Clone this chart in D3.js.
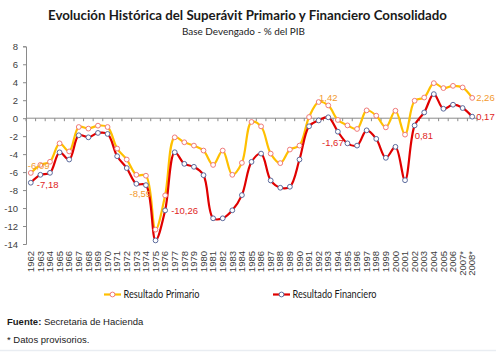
<!DOCTYPE html>
<html><head><meta charset="utf-8">
<script src="https://cdn.jsdelivr.net/npm/d3@7"></script>
<style>
html,body{margin:0;padding:0;background:#fff;}
svg{display:block;}
</style></head>
<body>
<svg id="chart" width="496" height="356"></svg>
<script>
const years = ["1962","1963","1964","1965","1966","1967","1968","1969","1970","1971","1972","1973","1974","1975","1976","1977","1978","1979","1980","1981","1982","1983","1984","1985","1986","1987","1988","1989","1990","1991","1992","1993","1994","1995","1996","1997","1998","1999","2000","2001","2002","2003","2004","2005","2006","2007*","2008*"];
const primario = [-6.09,-5.2,-4.85,-2.8,-3.7,-0.98,-1.16,-0.83,-0.98,-3.38,-4.6,-6.3,-6.4,-12.4,-8.59,-2.13,-2.68,-3.05,-3.6,-5.2,-3.6,-6.3,-4.97,-0.42,-0.91,-3.94,-5.0,-3.49,-3.05,0.13,1.8,1.42,-0.2,-0.8,-1.2,0.87,0.28,-1.02,0.83,-1.83,1.94,2.3,3.9,3.35,3.6,3.42,2.26];
const financiero = [-7.18,-6.3,-6.08,-3.8,-4.6,-1.9,-2.13,-1.64,-1.75,-4.23,-5.55,-7.3,-7.45,-13.6,-10.26,-3.79,-5.08,-5.41,-6.34,-11.14,-11.14,-10.25,-8.56,-4.86,-3.94,-6.93,-7.74,-7.63,-4.6,-0.9,-0.25,0.1,-1.5,-2.8,-3.05,-1.35,-2.3,-4.41,-3.19,-6.9,-0.81,0.64,2.68,1.05,1.5,1.13,0.17];
const yTicks = [-14,-12,-10,-8,-6,-4,-2,0,2,4,6,8];
const primarioLabels = [["1962","-6,09"],["1976","-8,59"],["1993","1,42"],["2008*","2,26"]];
const financieroLabels = [["1962","-7,18"],["1976","-10,26"],["1994","-1,67"],["2002","0,81"],["2008*","0,17"]];
const seriesNames = ["Resultado Primario","Resultado Financiero"];
const titleText = "Evolución Histórica del Superávit Primario y Financiero Consolidado";
const subtitleText = "Base Devengado - % del PIB";

const narrow = "'Liberation Sans Narrow','Arial Narrow','Liberation Sans',Arial,sans-serif";
const cal = "Lato,'Open Sans',sans-serif";
const C = {prim:"#FFC000", primMk:"#F07A7A", fin:"#E00000", finMk:"#5B6A9C", primLbl:"#F29A2E", finLbl:"#E01E1E", axis:"#8A8A8A", txt:"#404040"};

const svg = d3.select("#chart");
const x = d3.scaleBand().domain(years).range([26, 477]);
const y = d3.scaleLinear().domain([-14, 8]).range([244, 46.3]);
const cx = d => x(d) + x.bandwidth()/2;

// Title
svg.append("text").attr("x",247.5).attr("y",19.5).attr("text-anchor","middle")
  .attr("font-family",cal).attr("font-weight","bold").attr("font-size",14).attr("fill","#1a1a1a")
  .attr("textLength",399).attr("lengthAdjust","spacingAndGlyphs").text(titleText);
svg.append("text").attr("x",243.5).attr("y",34.5).attr("text-anchor","middle")
  .attr("font-family",cal).attr("font-size",10).attr("fill","#1a1a1a")
  .attr("textLength",123).attr("lengthAdjust","spacingAndGlyphs").text(subtitleText);

// Y axis
const yAxis = d3.axisLeft(y).tickValues(yTicks).tickSize(3).tickPadding(5).tickFormat(d => String(d));
const gy = svg.append("g").attr("transform","translate(26,0)").call(yAxis);
gy.select(".domain").attr("stroke",C.axis);
gy.selectAll(".tick line").attr("stroke",C.axis);
gy.selectAll(".tick text").attr("font-family",narrow).attr("font-size",9.5).attr("fill",C.txt);

// X axis at zero
const y0 = y(0);
svg.append("line").attr("x1",x.range()[0]).attr("x2",x.range()[1]).attr("y1",y0).attr("y2",y0).attr("stroke",C.axis);
const bounds = years.map(d => x(d)).concat([x.range()[1]]);
svg.append("g").selectAll("line").data(bounds).join("line")
  .attr("x1",d=>d).attr("x2",d=>d).attr("y1",y0).attr("y2",y0+3).attr("stroke",C.axis);

// Year labels
svg.append("g").selectAll("text").data(years).join("text")
  .attr("transform",d=>`translate(${cx(d)+3.2},251) rotate(-90)`)
  .attr("text-anchor","end").attr("font-family",narrow).attr("font-size",9.5).attr("fill",C.txt)
  .text(d=>d);

// Lines
const line = vals => d3.line().x((d,i)=>cx(years[i])).y(d=>y(d)).curve(d3.curveCatmullRom.alpha(0.5))(vals);
svg.append("path").attr("d",line(primario)).attr("fill","none").attr("stroke",C.prim).attr("stroke-width",2.2);
svg.append("path").attr("d",line(financiero)).attr("fill","none").attr("stroke",C.fin).attr("stroke-width",2.2);
svg.append("g").selectAll("circle").data(primario).join("circle")
  .attr("cx",(d,i)=>cx(years[i])).attr("cy",d=>y(d)).attr("r",2.4)
  .attr("fill","#fff").attr("stroke",C.primMk).attr("stroke-width",1);
svg.append("g").selectAll("circle").data(financiero).join("circle")
  .attr("cx",(d,i)=>cx(years[i])).attr("cy",d=>y(d)).attr("r",2.4)
  .attr("fill","#fff").attr("stroke",C.finMk).attr("stroke-width",1);

// Data labels
const pVal = yr => primario[years.indexOf(yr)];
const fVal = yr => financiero[years.indexOf(yr)];
const pOff = {"1962":[-3,-4,"start"],"1976":[-14,2,"end"],"1993":[0,-4,"middle"],"2008*":[4,3.5,"start"]};
const fOff = {"1962":[6,5,"start"],"1976":[6,4,"start"],"1994":[-5,14,"middle"],"2002":[0,13.5,"start"],"2008*":[4,3.5,"start"]};
svg.append("g").selectAll("text").data(primarioLabels).join("text")
  .attr("x",d=>cx(d[0])+pOff[d[0]][0]).attr("y",d=>y(pVal(d[0]))+pOff[d[0]][1])
  .attr("text-anchor",d=>pOff[d[0]][2]).attr("font-family",narrow).attr("font-size",9.5)
  .attr("fill",C.primLbl).text(d=>d[1]);
svg.append("g").selectAll("text").data(financieroLabels).join("text")
  .attr("x",d=>cx(d[0])+fOff[d[0]][0]).attr("y",d=>y(fVal(d[0]))+fOff[d[0]][1])
  .attr("text-anchor",d=>fOff[d[0]][2]).attr("font-family",narrow).attr("font-size",9.5)
  .attr("fill",C.finLbl).text(d=>d[1]);

// Legend
const leg = [{name:seriesNames[0],x:104,line:C.prim,mk:C.primMk,tl:76},{name:seriesNames[1],x:273,line:C.fin,mk:C.finMk,tl:84}];
const lg = svg.append("g").selectAll("g").data(leg).join("g").attr("transform",d=>`translate(${d.x},294.5)`);
lg.append("line").attr("x1",0).attr("x2",17).attr("stroke",d=>d.line).attr("stroke-width",2.2);
lg.append("circle").attr("cx",8.5).attr("r",2.4).attr("fill","#fff").attr("stroke",d=>d.mk);
lg.append("text").attr("x",19.5).attr("y",3.6).attr("font-family",cal).attr("font-size",10.5).attr("fill","#1a1a1a")
  .attr("textLength",d=>d.tl).attr("lengthAdjust","spacingAndGlyphs").text(d=>d.name);

// Footnotes
const f1 = svg.append("text").attr("x",7).attr("y",325).attr("font-family",narrow).attr("font-size",9.5).attr("fill","#1a1a1a");
f1.append("tspan").attr("font-weight","bold").text("Fuente:");
f1.append("tspan").text(" Secretaria de Hacienda");
svg.append("text").attr("x",7).attr("y",342.5).attr("font-family",narrow).attr("font-size",9.5).attr("fill","#1a1a1a").text("* Datos provisorios.");
svg.append("line").attr("x1",0).attr("x2",496).attr("y1",350.5).attr("y2",350.5).attr("stroke","#e9edf2").attr("stroke-width",1.5);
</script>
</body></html>
